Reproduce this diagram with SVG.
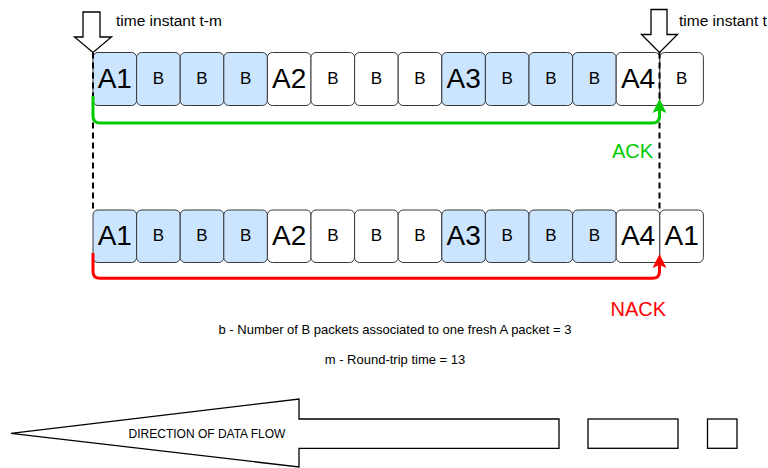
<svg xmlns="http://www.w3.org/2000/svg" width="768" height="468" viewBox="0 0 768 468">
  <style>
    .pkt { stroke: #36393d; stroke-width: 1; }
    .blue { fill: #cce5ff; }
    .white { fill: #ffffff; }
    .lblA { font-family: "Liberation Sans", Arial, sans-serif; font-size: 28px; fill: #000; text-anchor: middle; }
    .lblB { font-family: "Liberation Sans", Arial, sans-serif; font-size: 17px; fill: #000; text-anchor: middle; }
    .note { font-family: "Liberation Sans", Arial, sans-serif; font-size: 13px; fill: #000; text-anchor: middle; }
    .time { font-family: "Liberation Sans", Arial, sans-serif; font-size: 15.5px; fill: #000; }
    .marker-arrow { fill: #fff; stroke: #000; stroke-width: 1.3; stroke-linejoin: miter; }
    .dash { fill: none; stroke: #000; stroke-width: 2; stroke-dasharray: 6 4; }
    .ack { fill: none; stroke: #00cc00; stroke-width: 3; }
    .nack { fill: none; stroke: #ff0000; stroke-width: 3; }
    .big { font-family: "Liberation Sans", Arial, sans-serif; font-size: 20px; }
  </style>

  <!-- time markers -->
  <g id="marker-tm">
    <polygon class="marker-arrow" points="83,12 100,12 100,37 111.5,37 93,52.5 74.5,37 83,37"/>
    <text class="time" x="116" y="26">time instant t-m</text>
  </g>
  <g id="marker-t">
    <polygon class="marker-arrow" points="651,9.5 667,9.5 667,34.5 677.5,34.5 659.5,52.5 641.5,34.5 651,34.5"/>
    <text class="time" x="679" y="26">time instant t</text>
  </g>

  <!-- upper packet sequence -->
  <g id="row-top">
    <g id="t-A1"><rect class="pkt blue" x="93" y="52.5" width="43.6" height="53" rx="5"/><text class="lblA" x="114.8" y="87.7">A1</text></g>
    <g id="t-B1"><rect class="pkt blue" x="136.6" y="52.5" width="43.6" height="53" rx="5"/><text class="lblB" x="158.4" y="83.8">B</text></g>
    <g id="t-B2"><rect class="pkt blue" x="180.2" y="52.5" width="43.6" height="53" rx="5"/><text class="lblB" x="202" y="83.8">B</text></g>
    <g id="t-B3"><rect class="pkt blue" x="223.8" y="52.5" width="43.6" height="53" rx="5"/><text class="lblB" x="245.6" y="83.8">B</text></g>
    <g id="t-A2"><rect class="pkt white" x="267.4" y="52.5" width="43.6" height="53" rx="5"/><text class="lblA" x="289.2" y="87.7">A2</text></g>
    <g id="t-B4"><rect class="pkt white" x="311" y="52.5" width="43.6" height="53" rx="5"/><text class="lblB" x="332.8" y="83.8">B</text></g>
    <g id="t-B5"><rect class="pkt white" x="354.6" y="52.5" width="43.6" height="53" rx="5"/><text class="lblB" x="376.4" y="83.8">B</text></g>
    <g id="t-B6"><rect class="pkt white" x="398.2" y="52.5" width="43.6" height="53" rx="5"/><text class="lblB" x="420" y="83.8">B</text></g>
    <g id="t-A3"><rect class="pkt blue" x="441.8" y="52.5" width="43.6" height="53" rx="5"/><text class="lblA" x="463.6" y="87.7">A3</text></g>
    <g id="t-B7"><rect class="pkt blue" x="485.4" y="52.5" width="43.6" height="53" rx="5"/><text class="lblB" x="507.2" y="83.8">B</text></g>
    <g id="t-B8"><rect class="pkt blue" x="529" y="52.5" width="43.6" height="53" rx="5"/><text class="lblB" x="550.8" y="83.8">B</text></g>
    <g id="t-B9"><rect class="pkt blue" x="572.6" y="52.5" width="43.6" height="53" rx="5"/><text class="lblB" x="594.4" y="83.8">B</text></g>
    <g id="t-A4"><rect class="pkt white" x="616.2" y="52.5" width="43.6" height="53" rx="5"/><text class="lblA" x="638" y="87.7">A4</text></g>
    <g id="t-B10"><rect class="pkt white" x="659.8" y="52.5" width="43.6" height="53" rx="5"/><text class="lblB" x="681.6" y="83.8">B</text></g>
  </g>

  <!-- lower packet sequence -->
  <g id="row-bottom">
    <g id="b-A1"><rect class="pkt blue" x="93" y="210" width="43.6" height="52.5" rx="5"/><text class="lblA" x="114.8" y="245">A1</text></g>
    <g id="b-B1"><rect class="pkt blue" x="136.6" y="210" width="43.6" height="52.5" rx="5"/><text class="lblB" x="158.4" y="241.2">B</text></g>
    <g id="b-B2"><rect class="pkt blue" x="180.2" y="210" width="43.6" height="52.5" rx="5"/><text class="lblB" x="202" y="241.2">B</text></g>
    <g id="b-B3"><rect class="pkt blue" x="223.8" y="210" width="43.6" height="52.5" rx="5"/><text class="lblB" x="245.6" y="241.2">B</text></g>
    <g id="b-A2"><rect class="pkt white" x="267.4" y="210" width="43.6" height="52.5" rx="5"/><text class="lblA" x="289.2" y="245">A2</text></g>
    <g id="b-B4"><rect class="pkt white" x="311" y="210" width="43.6" height="52.5" rx="5"/><text class="lblB" x="332.8" y="241.2">B</text></g>
    <g id="b-B5"><rect class="pkt white" x="354.6" y="210" width="43.6" height="52.5" rx="5"/><text class="lblB" x="376.4" y="241.2">B</text></g>
    <g id="b-B6"><rect class="pkt white" x="398.2" y="210" width="43.6" height="52.5" rx="5"/><text class="lblB" x="420" y="241.2">B</text></g>
    <g id="b-A3"><rect class="pkt blue" x="441.8" y="210" width="43.6" height="52.5" rx="5"/><text class="lblA" x="463.6" y="245">A3</text></g>
    <g id="b-B7"><rect class="pkt blue" x="485.4" y="210" width="43.6" height="52.5" rx="5"/><text class="lblB" x="507.2" y="241.2">B</text></g>
    <g id="b-B8"><rect class="pkt blue" x="529" y="210" width="43.6" height="52.5" rx="5"/><text class="lblB" x="550.8" y="241.2">B</text></g>
    <g id="b-B9"><rect class="pkt blue" x="572.6" y="210" width="43.6" height="52.5" rx="5"/><text class="lblB" x="594.4" y="241.2">B</text></g>
    <g id="b-A4"><rect class="pkt white" x="616.2" y="210" width="43.6" height="52.5" rx="5"/><text class="lblA" x="638" y="245">A4</text></g>
    <g id="b-A1r"><rect class="pkt white" x="659.8" y="210" width="43.6" height="52.5" rx="5"/><text class="lblA" x="681.6" y="245">A1</text></g>
  </g>

  <!-- connectors -->
  <g id="connectors">
    <line class="dash" x1="93" y1="52.5" x2="93" y2="210"/>
    <line class="dash" x1="659.5" y1="52.5" x2="659.5" y2="210"/>

    <path class="ack" d="M93,96 V116 Q93,123 100,123 H652.5 Q659.5,123 659.5,116 V108"/>
    <polygon fill="#00cc00" points="659.5,99 666.5,113 659.5,110 652.5,113"/>

    <path class="nack" d="M93,253 V271.5 Q93,278.3 100,278.3 H652.5 Q659.5,278.3 659.5,271.5 V263"/>
    <polygon fill="#ff0000" points="659.5,254 666.5,268 659.5,265 652.5,268"/>
  </g>

  <g id="labels">
    <text class="big" x="612" y="158.3" fill="#00cc00">ACK</text>
    <text class="big" x="610.5" y="315.7" fill="#ff0000">NACK</text>
    <text class="note" x="395" y="334">b - Number of B packets associated to one fresh A packet = 3</text>
    <text class="note" x="395" y="364">m - Round-trip time = 13</text>
  </g>

  <!-- data flow direction -->
  <g id="flow-arrow">
    <polygon fill="#fff" stroke="#000" stroke-width="1.3" points="11,433.3 299,399 299,419 559,419 559,448.3 299,448.3 299,467 11,433.3"/>
    <text x="207" y="437.5" font-family="'Liberation Sans', Arial, sans-serif" font-size="12" text-anchor="middle" fill="#000">DIRECTION OF DATA FLOW</text>
  </g>
  <g id="flow-block-1">
    <rect fill="#fff" stroke="#000" stroke-width="1.3" x="588" y="419" width="90" height="29.3"/>
  </g>
  <g id="flow-block-2">
    <rect fill="#fff" stroke="#000" stroke-width="1.3" x="707.5" y="419" width="29.5" height="29.3"/>
  </g>
</svg>
